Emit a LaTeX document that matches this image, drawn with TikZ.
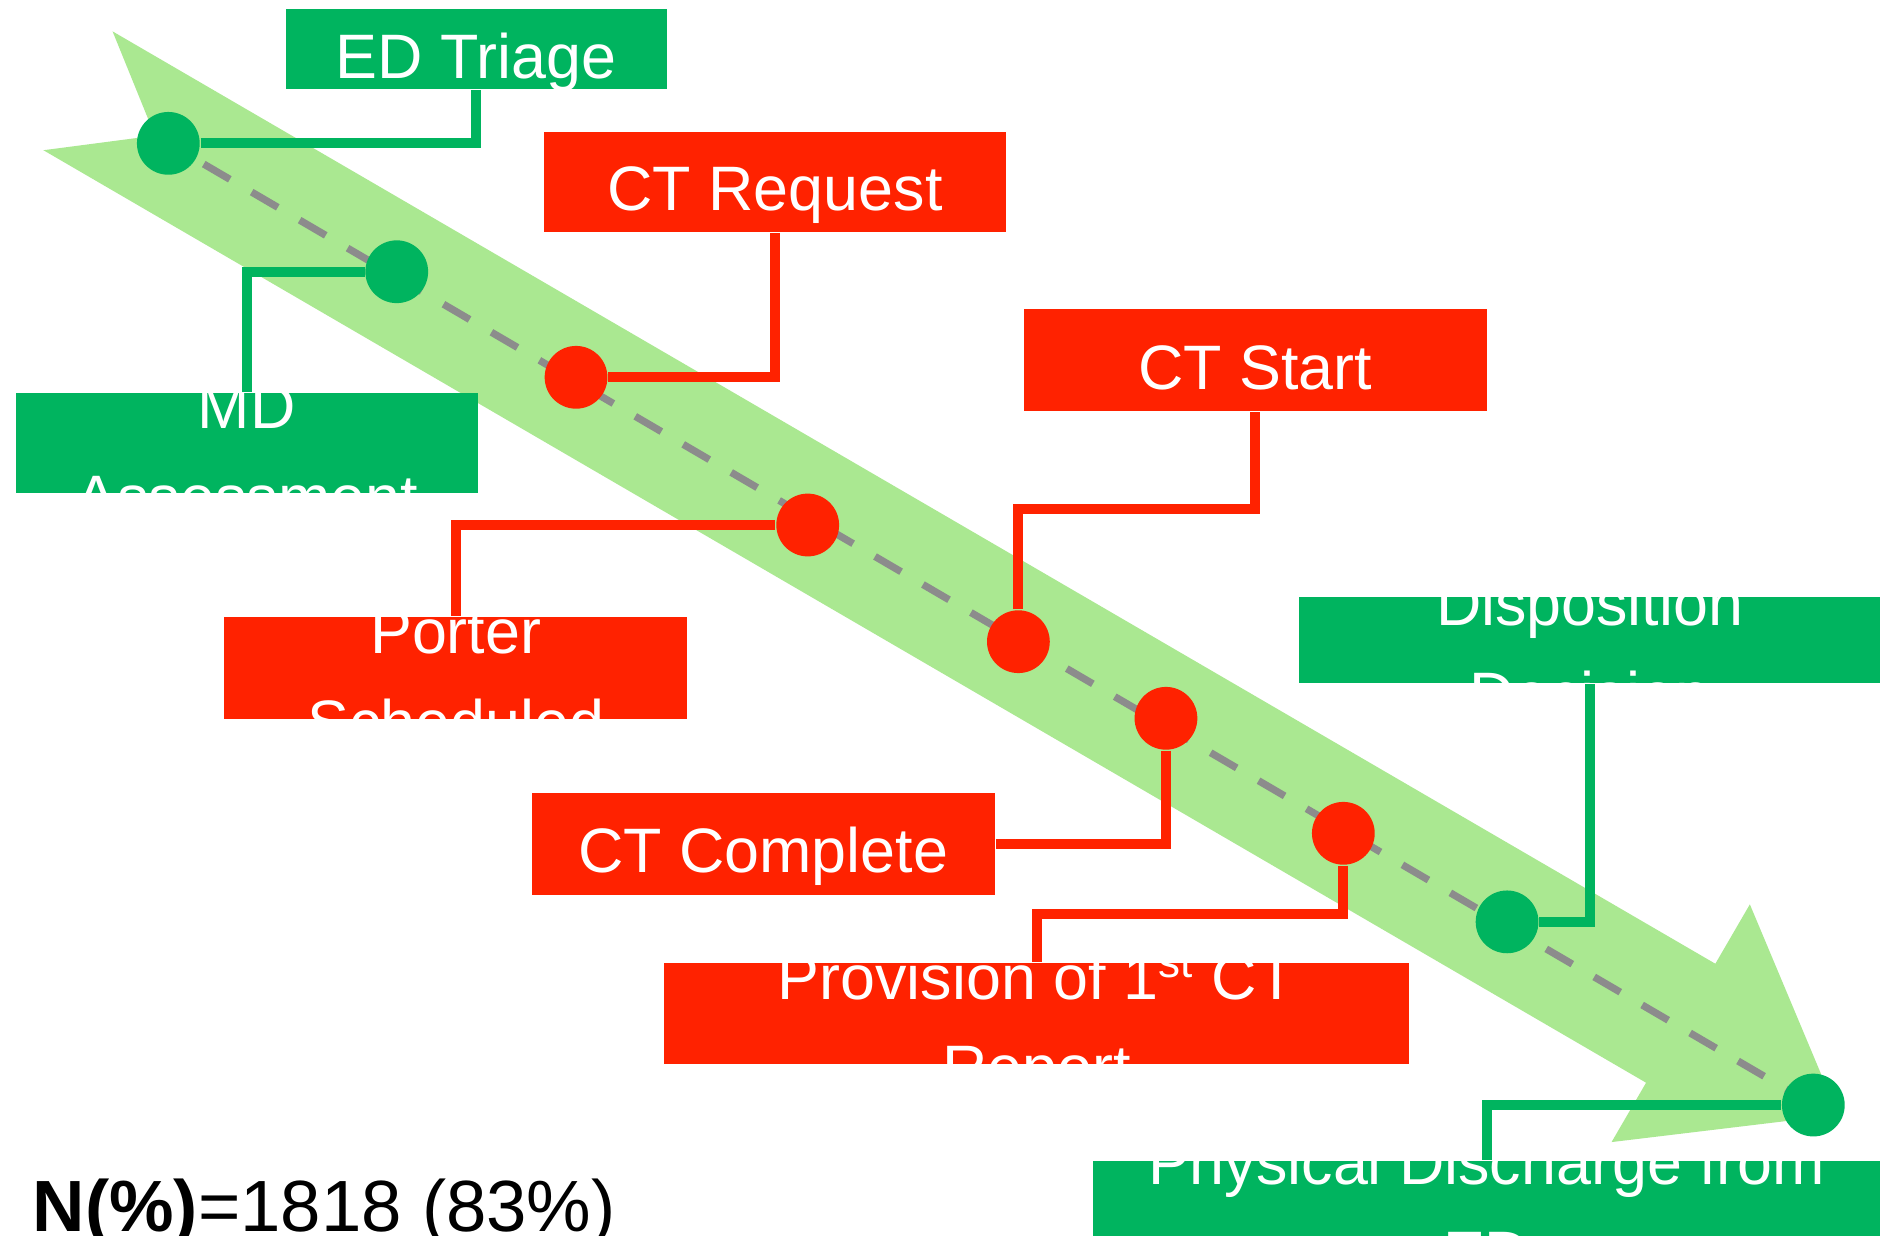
\documentclass[tikz,border=0pt]{standalone}
\usepackage{fontspec}
\setmainfont{Liberation Sans}
\usetikzlibrary{calc}
\definecolor{boxgreen}{RGB}{0,180,95}
\definecolor{boxred}{RGB}{255,34,0}
\definecolor{arrowgreen}{RGB}{170,232,145}
\definecolor{dashgray}{RGB}{140,140,140}
\newcommand{\boxfont}{\fontsize{14.8pt}{18pt}\selectfont}
\tikzset{
  gbox/.style={fill=boxgreen, draw=none, inner sep=0pt, text=white, font=\boxfont},
  rbox/.style={fill=boxred, draw=none, inner sep=0pt, text=white, font=\boxfont},
  oneline/.style={text height=0.48cm, text depth=0pt},
  boxline/.style={text=white, font=\boxfont, inner sep=0pt, anchor=base},
  gdot/.style={circle, fill=boxgreen, minimum size=0.52cm, inner sep=0pt},
  rdot/.style={circle, fill=boxred, minimum size=0.52cm, inner sep=0pt},
  gcon/.style={draw=boxgreen, line width=2.4pt},
  rcon/.style={draw=boxred, line width=2.4pt},
  timeline/.style={draw=dashgray, line width=1.7pt, dash pattern=on 0.25cm off 0.21cm, dash phase=0.12cm},
}
\begin{document}
\begin{tikzpicture}[x=0.01cm, y=-0.01cm]
\path[use as bounding box] (0,0) rectangle (1568,1024);
\clip (0,0) rectangle (1568,1024);
\fill[white] (0,0) rectangle (1568,1024);

% big light green notched arrow
\fill[arrowgreen] (93.3,26.0) -- (128.4,112.4) -- (36.0,124.5) -- (1364.2,897.3)
  -- (1335.6,946.5) -- (1523.4,923.9) -- (1450.2,749.5) -- (1421.6,798.7) -- cycle;

% milestone positions
\coordinate (pedt)  at (139.5,118.8);
\coordinate (pmd)   at (328.8,225.2);
\coordinate (pctr)  at (477.4,312.7);
\coordinate (ppor)  at (669.4,435.1);
\coordinate (pcts)  at (844,531.8);
\coordinate (pctc)  at (966.3,595.3);
\coordinate (pprov) at (1113.3,690.6);
\coordinate (pdis)  at (1249,764);
\coordinate (pdc)   at (1502.8,915.8);

\draw[timeline] (pedt) -- (pdc);

% boxes
\node[gbox, oneline, minimum width=3.156cm, minimum height=0.663cm] (edt) at (394.6,40.85) {ED Triage};
\node[rbox, oneline, minimum width=3.833cm, minimum height=0.829cm] (ctr) at (642.35,150.55) {CT Request};
\node[gbox, minimum width=3.829cm, minimum height=0.835cm] (md) at (204.45,367.15) {};
\node[rbox, oneline, minimum width=3.838cm, minimum height=0.84cm] (cts) at (1040.3,298.4) {CT Start};
\node[rbox, minimum width=3.833cm, minimum height=0.846cm] (por) at (377.65,553.9) {};
\node[gbox, minimum width=4.812cm, minimum height=0.718cm] (dis) at (1317.4,530.4) {};
\node[rbox, oneline, minimum width=3.835cm, minimum height=0.838cm] (ctc) at (632.55,699.4) {CT Complete};
\node[rbox, minimum width=6.169cm, minimum height=0.834cm] (prov) at (859.15,840.1) {};
\node[gbox, minimum width=6.519cm, minimum height=0.62cm] (dc) at (1232.05,993) {};

% overflowing two-line labels, clipped to their boxes
\begin{scope}
\clip (md.south west) rectangle (md.north east);
\node[boxline] (mdA) at ($(md.center)+(0,-12)$) {MD};
\node[boxline] (mdB) at ($(md.center)+(0,63)$) {Assessment};
\end{scope}
\begin{scope}
\clip (por.south west) rectangle (por.north east);
\node[boxline] (porA) at ($(por.center)+(0,-12)$) {Porter};
\node[boxline] (porB) at ($(por.center)+(0,63)$) {Scheduled};
\end{scope}
\begin{scope}
\clip (dis.south west) rectangle (dis.north east);
\node[boxline] (disA) at ($(dis.center)+(0,-12)$) {Disposition};
\node[boxline] (disB) at ($(dis.center)+(0,63)$) {Decision};
\end{scope}
\begin{scope}
\clip (prov.south west) rectangle (prov.north east);
\node[boxline] (provA) at ($(prov.center)+(0,-12)$) {Provision of 1\textsuperscript{st} CT};
\node[boxline] (provB) at ($(prov.center)+(0,63)$) {Report};
\end{scope}
\begin{scope}
\clip (dc.south west) rectangle (dc.north east);
\node[boxline] (dcA) at ($(dc.center)+(0,-11)$) {Physical Discharge from};
\node[boxline] (dcB) at ($(dc.center)+(0,64)$) {ED};
\end{scope}

% dots
\node[gdot] (dedt)  at (pedt) {};
\node[gdot] (dmd)   at (pmd) {};
\node[rdot] (dctr)  at (pctr) {};
\node[rdot] (dpor)  at (ppor) {};
\node[rdot] (dcts)  at (pcts) {};
\node[rdot] (dctc)  at (pctc) {};
\node[rdot] (dprov) at (pprov) {};
\node[gdot] (ddis)  at (pdis) {};
\node[gdot] (ddc)   at (pdc) {};

% connectors
\draw[gcon] (dedt) -| (edt.south);
\draw[gcon] (dmd) -| (md.north);
\draw[rcon] (dctr) -| (ctr.south);
\draw[rcon] (dpor) -| (por.north);
\coordinate (kcts) at (844,422);
\draw[rcon] (dcts) -- (kcts) -| (cts.south);
\draw[rcon] (dctc) |- (ctc.east);
\coordinate (kprov) at (1113.3,757.5);
\draw[rcon] (dprov) -- (kprov) -| (prov.north);
\draw[gcon] (ddis) -| (dis.south);
\draw[gcon] (ddc) -| (dc.north);

% caption
\node[anchor=base west, inner sep=0pt, font=\fontsize{17.1pt}{20pt}\selectfont] (cap) at (26.6,1020.8) {\textbf{N(\%)}=1818 (83\%)};
\end{tikzpicture}
\end{document}
